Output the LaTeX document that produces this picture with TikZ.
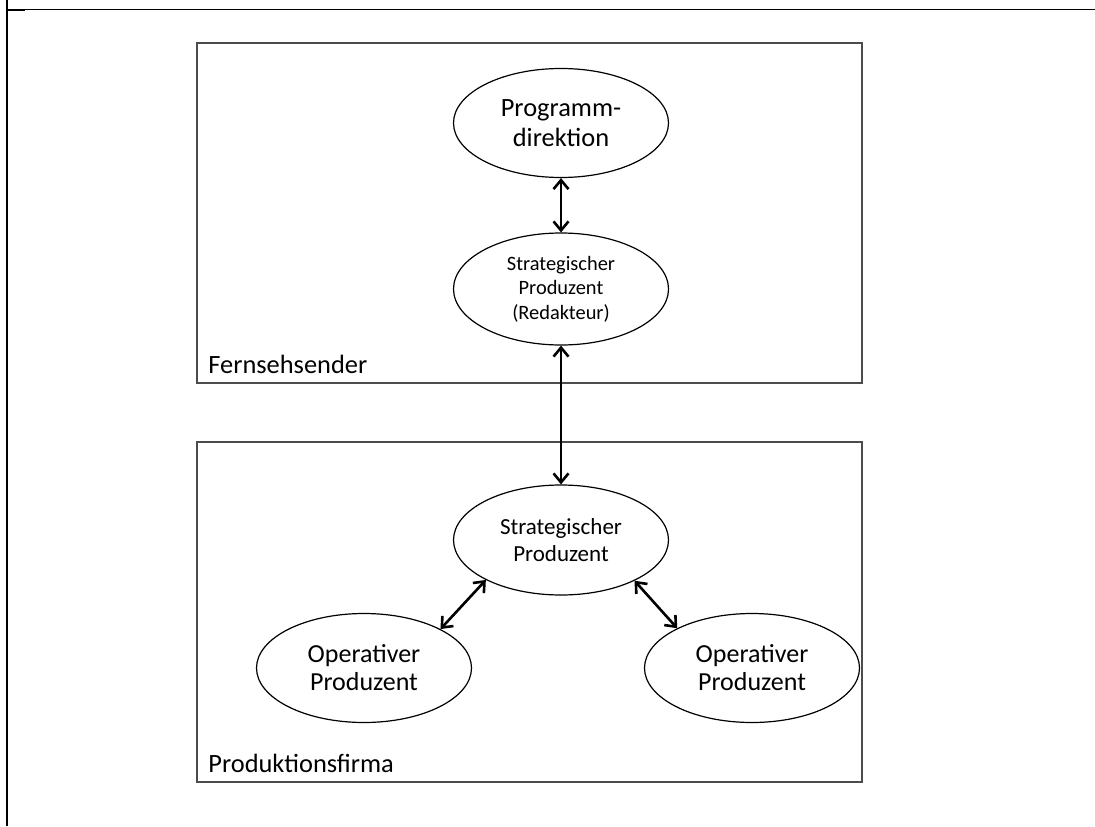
\documentclass[tikz,border=0pt]{standalone}
\usepackage{fontspec}
\setmainfont{Carlito}
\usetikzlibrary{arrows.meta,shapes.geometric,positioning}

\begin{document}
\begin{tikzpicture}[
            x = 0.5pt, y = 0.5pt,
            rolle/.style = {
                draw, ellipse,
                align = center,
                inner sep = 0pt,
                line width = 0.6pt,
                minimum width = 107.5pt,
                minimum height = 54.5pt,
            },
            bereich/.style = {
                draw = black!70,
                line width = 1pt,
            },
            beschriftung/.style = {
                anchor = base west,
                inner sep = 0pt,
                font = \fontsize{13.2}{15.3}\selectfont,
            },
        ]

        \useasboundingbox (0,0) rectangle (1095,826);

        % Rahmen
        \draw[line width = 1pt] (7,0) -- (7,826);
        \draw[line width = 0.5pt] (7,816.5) -- (1095,816.5);
        \draw[line width = 1pt] (7,815.5) -- (25,815.5);

        % Bereiche
        \draw[bereich] (197,443) rectangle (862,783);
        \draw[bereich] (197,44) rectangle (862,384);
        \node[beschriftung] (sender) at (208,453) {Fernsehsender};
        \node[beschriftung] (firma) at (208,54) {Produktionsfirma};

        % Rollen
        \node[rolle, font = \fontsize{13.2}{15.3}\selectfont] (direktion) at (561,703) {Programm-\\direktion};
        \node[rolle, below of = direktion, node distance = 83pt, minimum height = 56pt,
              font = \fontsize{10.2}{12.3}\selectfont] (redakteur) {Strategischer\\Produzent\\(Redakteur)};
        \node[rolle, below of = redakteur, node distance = 125.5pt, minimum height = 55pt,
              font = \fontsize{11.5}{13.9}\selectfont] (strategisch) {Strategischer\\Produzent};
        \node[rolle, on grid, below left = 64pt and 98.5pt of strategisch,
              font = \fontsize{13}{14}\selectfont] (operativ_links) {Operativer\\Produzent};
        \node[rolle, on grid, below right = 64pt and 95.5pt of strategisch,
              font = \fontsize{13}{14}\selectfont] (operativ_rechts) {Operativer\\Produzent};

        % Beziehungen
        \path
        [
            line width = 1.3pt,
            {Straight Barb[length=4.5pt,width=7.5pt]}-{Straight Barb[length=4.5pt,width=7.5pt]}
        ]
            (direktion) edge (redakteur)
            (redakteur) edge (strategisch)
            (strategisch.208) edge (operativ_links.27)
            (strategisch.331) edge (operativ_rechts.152);

    \end{tikzpicture}
\end{document}
